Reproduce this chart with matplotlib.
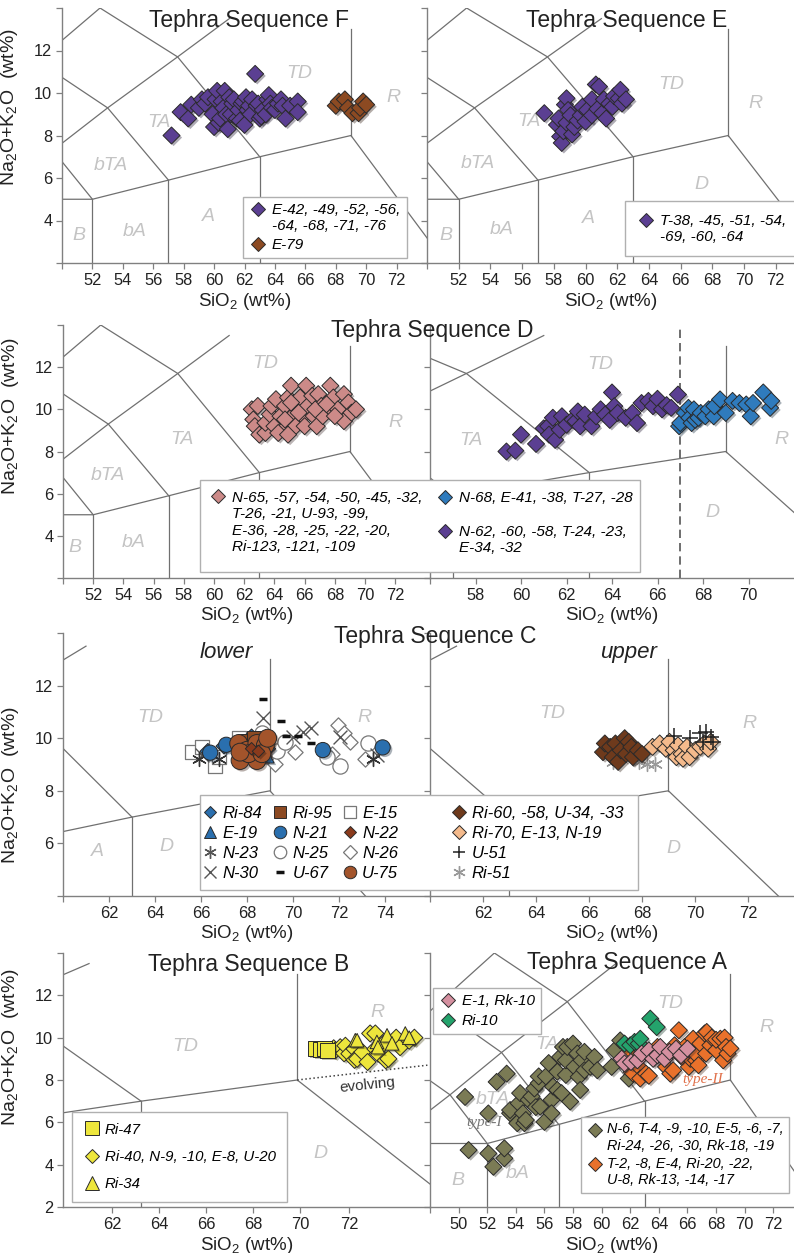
import matplotlib
matplotlib.use('Agg')
import matplotlib.pyplot as plt
from matplotlib.lines import Line2D
from matplotlib.patches import Rectangle
from matplotlib.legend_handler import HandlerLine2D
import matplotlib.patheffects as pe

plt.rcParams['font.family'] = ['Liberation Sans', 'DejaVu Sans']
plt.rcParams['mathtext.fontset'] = 'custom'
plt.rcParams['mathtext.rm'] = 'Liberation Sans'
plt.rcParams['mathtext.it'] = 'Liberation Sans:italic'

W, H = 794, 1253

# TAS field boundaries (SiO2, Na2O+K2O)
tas_lines = [
    [(45, 9.4), (48.4, 11.5), (52.5, 14)],
    [(52.5, 14), (57.6, 11.7), (63, 7)],
    [(45, 9.4), (49.4, 7.3), (52, 5)],
    [(48.4, 11.5), (53, 9.3), (57, 5.9)],
    [(45, 5), (49.4, 7.3), (53, 9.3), (57.6, 11.7), (61, 13.5)],
    [(45, 5), (52, 5), (57, 5.9), (63, 7), (69, 8), (77.3, 0)],
    [(52, 0), (52, 5)],
    [(57, 0), (57, 5.9)],
    [(63, 0), (63, 7)],
    [(69, 8), (69, 13)],
]

# ---- Tephra Sequence F
f_purple_x = [57.2, 57.8, 58.3, 58.5, 59.0, 59.2, 59.4, 59.6, 59.9, 60.0, 60.1, 60.2, 60.3, 60.4, 60.5,
              60.6, 60.7, 60.8, 60.9, 61.0, 61.1, 61.2, 61.3, 61.5, 61.6, 61.7, 61.8, 61.9, 62.0, 62.1,
              62.2, 62.3, 62.4, 62.5, 62.7, 62.8, 62.9, 63.0, 63.1, 63.2, 63.4, 63.5, 63.6, 63.7, 63.8,
              64.0, 64.2, 64.4, 64.5, 64.7, 65.0, 65.5, 65.5]
f_purple_y = [8.0, 9.1, 8.8, 9.45, 9.3, 9.7, 9.5, 9.8, 9.0, 8.4, 9.7, 10.1, 8.6, 8.8, 9.6,
              9.3, 10.1, 9.0, 8.3, 9.8, 9.0, 9.5, 9.7, 8.8, 9.2, 8.7, 9.5, 9.6, 8.5, 9.8,
              9.2, 9.4, 9.0, 9.7, 10.9, 9.4, 9.5, 8.8, 8.9, 9.2, 9.0, 9.7, 9.9, 9.5, 9.3,
              9.2, 9.5, 9.7, 9.4, 8.8, 9.4, 9.6, 9.1]
f_brown_x = [68.0, 68.2, 68.6, 68.8, 69.1, 69.5, 69.6, 69.8, 70.0]
f_brown_y = [9.4, 9.6, 9.7, 9.3, 9.05, 9.05, 9.3, 9.6, 9.45]

# ---- Tephra Sequence E
e_purple_x = [57.4, 58.2, 58.3, 58.4, 58.5, 58.6, 58.7, 58.8, 58.8, 58.9, 59.05, 59.15, 59.3, 59.5, 59.7,
              59.8, 60.0, 60.1, 60.4, 60.4, 60.65, 60.75, 60.85, 61.05, 61.16, 61.3, 61.5, 61.7, 61.8,
              62.1, 62.2, 62.3, 62.55]
e_purple_y = [9.05, 8.5, 8.8, 7.95, 7.65, 8.2, 9.45, 9.75, 8.6, 9.2, 8.95, 8.05, 8.4, 8.7, 8.95,
              9.35, 8.65, 9.2, 9.7, 8.95, 10.4, 9.25, 10.3, 9.05, 9.7, 8.8, 9.5, 9.35, 9.85,
              9.75, 10.15, 9.5, 9.7]

# ---- Tephra Sequence D
d_pink_x = [62.5, 62.6, 62.7, 63.0, 63.4, 62.9, 63.4, 63.7, 63.8, 64.0, 64.1, 64.4, 64.6, 64.7, 64.9,
            65.1, 65.2, 65.4, 65.5, 65.7, 65.9, 66.0, 66.1, 66.2, 66.5, 66.6, 66.8, 66.9, 67.1, 67.2,
            67.7, 67.8, 67.9, 68.2, 68.6, 68.6, 68.9, 69.1, 69.4, 64.25, 64.9, 64.7, 65.6, 66.7, 68.0,
            65.1, 67.45]
d_pink_y = [10.0, 9.52, 9.2, 8.8, 8.88, 10.16, 9.36, 9.76, 10.16, 9.2, 10.48, 9.68, 9.04, 10.16, 10.56,
            11.12, 9.68, 9.2, 10.16, 10.56, 9.68, 9.2, 11.12, 10.16, 10.64, 9.68, 9.2, 10.72, 10.16, 9.68,
            11.12, 10.0, 10.56, 10.0, 10.72, 9.44, 10.32, 9.84, 10.0, 8.88, 8.8, 9.52, 9.84, 10.0, 9.68,
            10.32, 10.24]
d_purple_x = [59.36, 59.75, 60.0, 60.66, 61.0, 61.2, 61.23, 61.4, 61.5, 61.7, 61.8, 62.0, 62.27, 62.4,
              62.5, 62.6, 62.8, 63.1, 63.3, 63.5, 63.7, 63.9, 64.0, 64.1, 64.25, 64.6, 64.9, 65.1, 65.3,
              65.6, 65.8, 66.0, 66.2, 66.4, 66.6, 66.9]
d_purple_y = [8.0, 8.04, 8.8, 8.36, 9.1, 9.2, 8.8, 9.6, 8.55, 9.03, 9.67, 9.27, 9.51, 9.43,
              9.9, 9.2, 9.75, 9.2, 9.67, 10.0, 9.75, 9.5, 10.8, 10.15, 9.83, 9.6, 9.83, 9.35, 10.3,
              10.4, 10.15, 10.5, 10.0, 10.2, 10.07, 10.7]
d_blue_x = [66.95, 67.0, 67.2, 67.36, 67.4, 67.5, 67.6, 67.65, 67.8, 67.9, 68.1, 68.25, 68.47, 68.5,
            68.75, 69.0, 69.3, 69.6, 69.9, 70.1, 70.2, 70.65, 70.95, 71.0]
d_blue_y = [9.2, 9.35, 9.83, 10.07, 9.6, 9.35, 10.0, 9.5, 9.6, 9.83, 9.67, 10.0, 9.67, 10.15,
            10.47, 9.83, 10.4, 10.3, 10.23, 9.67, 10.3, 10.8, 10.07, 10.4]
d_split = 67

# ---- Tephra Sequence C, lower
c_ri84_x = [66.3, 67.0, 68.2, 68.9]
c_ri84_y = [9.5, 9.7, 10.05, 9.6]
c_e19_x = [68.9, 68.6]
c_e19_y = [9.3, 9.9]
c_n21_x = [66.4, 67.1, 71.3, 73.9]
c_n21_y = [9.45, 9.75, 9.55, 9.65]
c_ri95_x = [67.9, 68.3]
c_ri95_y = [9.9, 10.0]
c_n22_x = [68.2, 68.5]
c_n22_y = [9.6, 9.5]
c_e15_x = [65.6, 66.05, 66.6, 66.8, 67.64]
c_e15_y = [9.47, 9.67, 8.96, 9.3, 9.99]
c_n23_x = [65.9, 66.8, 73.5]
c_n23_y = [9.22, 9.22, 9.22]
c_n25_x = [68.65, 69.3, 69.66, 71.5, 72.04, 73.27]
c_n25_y = [10.18, 9.5, 9.86, 9.3, 8.96, 9.8]
c_n26_x = [69.2, 70.1, 71.7, 71.97, 72.2, 72.5, 73.15]
c_n26_y = [9.03, 9.47, 9.4, 10.5, 10.18, 9.86, 9.22]
c_n30_x = [66.05, 68.7, 70.0, 70.45, 70.8, 72.04, 73.65]
c_n30_y = [9.35, 10.76, 10.05, 10.24, 10.4, 10.05, 9.35]
c_u67_x = [68.7, 69.47, 69.7, 70.24, 70.8]
c_u67_y = [11.49, 10.67, 10.1, 10.08, 9.82]
c_u75_x = [67.64, 68.0, 68.43, 68.8, 67.7, 68.43, 68.07, 68.65, 67.7, 68.9]
c_u75_y = [9.8, 9.54, 9.8, 9.73, 9.15, 9.15, 9.41, 9.41, 9.47, 10.0]

# ---- Tephra Sequence C, upper
c_ri60_x = [66.53, 66.6, 66.8, 66.9, 67.0, 67.1, 67.2, 67.35, 67.4, 67.5, 67.6, 67.66, 67.85, 68.0]
c_ri60_y = [9.47, 9.8, 9.67, 9.28, 9.8, 9.1, 9.54, 10.0, 9.4, 9.86, 9.67, 9.28, 9.54, 9.4]
c_ri70_x = [68.4, 68.67, 68.9, 69.04, 69.2, 69.3, 69.36, 69.5, 69.55, 69.7, 69.8, 70.0, 70.2, 70.36,
            70.5, 70.6]
c_ri70_y = [9.67, 9.8, 9.6, 9.86, 9.54, 9.28, 9.73, 9.4, 9.22, 9.67, 9.28, 9.54, 9.67, 9.8,
            9.6, 9.86]
c_u51_x = [69.2, 69.8, 70.2, 70.3, 70.4, 70.6, 70.7]
c_u51_y = [10.1, 10.0, 10.18, 9.86, 10.24, 10.05, 9.86]
c_ri51_x = [66.9, 67.9, 68.2, 68.5]
c_ri51_y = [9.1, 9.1, 9.03, 9.03]

# ---- Tephra Sequence B
b_ri47_x = [69.7, 69.9, 70.05, 70.15]
b_ri47_y = [9.5, 9.45, 9.5, 9.4]
b_ri40_x = [70.4, 70.46, 70.65, 70.8, 70.85, 71.0, 71.2, 71.2, 71.3, 71.5, 71.7, 71.8, 72.0, 72.0,
            72.1, 72.3, 72.4, 72.5, 72.8, 72.95, 73.3, 73.5]
b_ri40_y = [9.5, 9.4, 9.55, 9.26, 9.62, 9.24, 9.47, 8.95, 9.0, 9.32, 8.85, 10.2, 10.2, 9.47,
            9.24, 9.7, 8.93, 9.0, 10.0, 9.55, 9.86, 10.0]
b_ri34_x = [71.23, 71.3, 72.06, 72.1, 72.45, 72.64, 73.15, 73.3]
b_ri34_y = [9.88, 9.88, 9.8, 9.55, 10.11, 9.73, 10.2, 10.0]
evolve_x = [69, 74]
evolve_y = [8, 8.7]
b_tick_pos = [61.9, 63.7, 65.5, 67.3, 69.1, 71.0]
b_tick_lab = ['62', '64', '66', '68', '70', '72']

# ---- Tephra Sequence A
a_olive_x = [50.45, 50.7, 52.08, 52.08, 52.43, 52.66, 53.2, 53.2, 53.36, 53.6, 53.6, 54.1, 54.2, 54.3,
             54.5, 54.6, 54.7, 54.9, 55.1, 55.3, 55.4, 55.6, 55.6, 55.7, 56.0, 56.1, 56.3, 56.5, 56.5,
             56.6, 56.9, 56.9, 57.1, 57.2, 57.3, 57.5, 57.5, 57.6, 57.8, 58.0, 58.1, 58.3, 58.4, 58.5,
             58.6, 58.8, 58.8, 59.2, 59.5, 59.7, 60.7, 60.9, 61.3, 61.9]
a_olive_y = [7.2, 4.69, 6.42, 4.53, 3.9, 7.91, 4.3, 4.77, 8.3, 6.43, 6.58, 5.96, 6.9, 7.38,
             6.43, 5.96, 6.11, 7.06, 7.22, 7.6, 6.72, 7.85, 8.17, 6.74, 6.02, 8.17, 8.8, 7.06, 6.43,
             7.69, 8.39, 7.53, 9.09, 7.38, 9.56, 8.24, 8.93, 9.56, 6.98, 9.72, 8.62, 9.25, 8.15, 7.53,
             8.93, 9.33, 8.46, 8.62, 9.09, 8.46, 8.62, 9.4, 9.87, 8.07]
a_orange_x = [61.9, 62.1, 62.2, 62.6, 62.7, 63.1, 63.3, 63.3, 63.6, 63.9, 64.5, 64.6, 64.8, 65.0,
              65.1, 65.4, 65.6, 65.8, 66.1, 66.2, 66.3, 66.4, 66.6, 66.65, 66.77, 66.9, 67.2, 67.3,
              67.35, 67.6, 67.7, 68.0, 68.0, 68.3, 68.5, 68.6, 68.7, 68.8, 69.0]
a_orange_y = [9.25, 8.38, 8.3, 8.62, 8.07, 8.3, 9.33, 8.2, 9.09, 9.56, 8.62, 9.25, 8.3, 8.46,
              9.64, 10.35, 9.09, 9.56, 8.62, 9.0, 9.33, 9.95, 8.93, 9.17, 8.7, 9.72, 10.2, 9.25,
              10.27, 9.64, 10.0, 9.4, 9.9, 9.95, 8.93, 10.0, 9.56, 9.25, 9.49]
a_pink_x = [61.4, 61.6, 62.05, 62.5, 62.8, 63.3, 63.6, 63.9, 64.1, 64.4, 64.75, 65.2, 65.55, 66.0]
a_pink_y = [9.01, 8.78, 8.85, 8.93, 9.25, 9.4, 9.0, 9.17, 9.56, 9.0, 9.33, 9.48, 9.17, 9.48]
a_green_x = [61.6, 62.0, 62.3, 62.6, 62.7, 63.4, 63.85]
a_green_y = [9.72, 9.64, 9.8, 9.72, 9.95, 10.9, 10.5]

PURPLE = '#5b3f92'
BROWN = '#8c4a22'
PINK = '#cc8a88'
BLUE = '#2f7bbd'
C_BLUE = '#2a6fae'
DARKBROWN = '#6e3a1c'
TAN = '#f4ba8c'
YELLOW = '#ede63c'
OLIVE = '#7b7b55'
ORANGE = '#e9712b'
APINK = '#d590a0'
GREEN = '#24a36c'
EDGE = '#2a2a2a'
FIELD = '#c4c4c4'
AXC = '#808080'

shadow = [pe.SimplePatchShadow(offset=(1.5, -1.5), alpha=0.35), pe.Normal()]


class TopHandler(HandlerLine2D):
    # puts the marker level with the first line of a multi-line label
    def __init__(self, extra_lines, **kw):
        super().__init__(**kw)
        self.extra_lines = extra_lines

    def create_artists(self, legend, orig_handle, xdescent, ydescent, width, height, fontsize, trans):
        shift = self.extra_lines * 1.17 * fontsize
        return super().create_artists(legend, orig_handle, xdescent, ydescent - shift,
                                      width, height, fontsize, trans)


def fx(px):
    return px / W


def fy(py):
    return 1 - py / H


def rect(x0, y0, x1, y1):
    return [x0 / W, 1 - y1 / H, (x1 - x0) / W, (y1 - y0) / H]


def setup(ax, xlim, ylim, xticks, xlabels, yticks, ylabels):
    ax.set_xlim(*xlim)
    ax.set_ylim(*ylim)
    ax.patch.set_alpha(0)
    for s in ['top', 'right']:
        ax.spines[s].set_visible(False)
    for s in ['left', 'bottom']:
        ax.spines[s].set_color(AXC)
        ax.spines[s].set_linewidth(1.0)
    ax.set_xticks(xticks)
    ax.set_xticklabels(xlabels)
    ax.set_yticks(yticks)
    ax.set_yticklabels(ylabels)
    ax.tick_params(direction='out', length=4, width=0.9, color=AXC, labelsize=11.8,
                   labelcolor='#222', pad=3)
    ax.set_xlabel('SiO$_\\mathregular{2}$ (wt%)', fontsize=13.5, color='#222', labelpad=2)
    for seg in tas_lines:
        xs, ys = zip(*seg)
        ax.plot(xs, ys, color='#707070', lw=0.9, zorder=1)


def ylab(ax, yfrac):
    ax.set_ylabel('Na$_\\mathregular{2}$O+K$_\\mathregular{2}$O  (wt%)', fontsize=14, color='#222')
    ax.yaxis.set_label_coords(-0.115, yfrac)


def field(ax, items):
    for s, x, y in items:
        ax.text(x, y, s, color=FIELD, fontsize=14, style='italic', ha='center', va='center',
                zorder=0.5, clip_on=True)


def pts(ax, x, y, marker, color, s=75, edge=EDGE, lw=0.7, fx_=True, z=3):
    ax.scatter(x, y, marker=marker, s=s, c=color, edgecolors=edge, linewidths=lw, zorder=z,
               path_effects=shadow if fx_ else None)


def h(marker, color, ms=7.5, edge=EDGE, mew=0.7):
    return Line2D([], [], marker=marker, ls='none', markerfacecolor=color, markeredgecolor=edge,
                  markersize=ms, markeredgewidth=mew)


def leg_kw(size=11, frame=True):
    return dict(frameon=frame, fancybox=False, edgecolor='#b0b0b0', framealpha=1, borderaxespad=0,
                handletextpad=0.3, handlelength=1.2, prop={'style': 'italic', 'size': size})


fig = plt.figure(figsize=(W / 100, H / 100), dpi=100)

ev = [2, 4, 6, 8, 10, 12, 14]
ev_lab = ['', '4', '6', '8', '10', '12', '']
blank = [''] * 7

# ---------- Row 1
ax = fig.add_axes(rect(62, 8, 427, 263))
setup(ax, (50, 74), (2, 14), list(range(50, 73, 2)), [''] + [str(v) for v in range(52, 73, 2)], ev, ev_lab)
ylab(ax, 0.61)
field(ax, [('TD', 65.6, 10.9), ('R', 71.8, 9.8), ('TA', 56.4, 8.6), ('bTA', 53.2, 6.6),
           ('A', 59.6, 4.2), ('bA', 54.8, 3.5), ('B', 51.1, 3.3)])
pts(ax, f_purple_x, f_purple_y, 'D', PURPLE)
pts(ax, f_brown_x, f_brown_y, 'D', BROWN)
hp = h('D', PURPLE)
ax.legend([hp, h('D', BROWN)], ['E-42, -49, -52, -56,\n-64, -68, -71, -76', 'E-79'],
          loc='lower left', bbox_to_anchor=(fx(243), fy(258)), bbox_transform=fig.transFigure,
          labelspacing=0.3, handler_map={hp: TopHandler(1)}, **leg_kw())
fig.text(fx(249), fy(20), 'Tephra Sequence F', fontsize=16.5, ha='center', va='center', color='#222')

ax = fig.add_axes(rect(427, 8, 794, 263))
setup(ax, (50, 73.15), (2, 14), list(range(50, 73, 2)), [''] + [str(v) for v in range(52, 73, 2)], ev, blank)
field(ax, [('TD', 65.4, 10.4), ('R', 70.7, 9.5), ('TA', 56.4, 8.65), ('bTA', 53.2, 6.7),
           ('D', 67.3, 5.7), ('A', 60.2, 4.1), ('bA', 54.7, 3.6), ('B', 51.2, 3.3)])
pts(ax, e_purple_x, e_purple_y, 'D', PURPLE)
hp = h('D', PURPLE)
ax.legend([hp], ['T-38, -45, -51, -54,\n-69, -60, -64'],
          loc='lower left', bbox_to_anchor=(fx(625), fy(256)), bbox_transform=fig.transFigure,
          borderpad=0.8, handler_map={hp: TopHandler(1)}, **leg_kw())
fig.text(fx(627), fy(20), 'Tephra Sequence E', fontsize=16.5, ha='center', va='center', color='#222')

# ---------- Row 2
ax = fig.add_axes(rect(63, 325, 430, 578))
setup(ax, (50, 74.3), (2, 14), list(range(50, 73, 2)), [''] + [str(v) for v in range(52, 73, 2)], ev, ev_lab)
ylab(ax, 0.64)
field(ax, [('TD', 63.4, 12.16), ('R', 72.0, 9.36), ('TA', 57.85, 8.56), ('bTA', 53.0, 6.88),
           ('bA', 54.65, 3.7), ('B', 50.8, 3.44)])
pts(ax, d_pink_x, d_pink_y, 'D', PINK)

ax = fig.add_axes(rect(430, 325, 794, 578))
setup(ax, (56, 72), (2, 14), list(range(56, 72, 2)), [''] + [str(v) for v in range(58, 72, 2)], ev, blank)
field(ax, [('TD', 63.5, 12.14), ('TA', 57.8, 8.5), ('R', 71.45, 8.55), ('D', 68.4, 5.1)])
ax.axvline(d_split, ls=(0, (5, 3)), color='#555', lw=1.2, zorder=2)
pts(ax, d_purple_x, d_purple_y, 'D', PURPLE)
pts(ax, d_blue_x, d_blue_y, 'D', BLUE)
fig.text(fx(432), fy(330), 'Tephra Sequence D', fontsize=16.5, ha='center', va='center', color='#222')

fig.add_artist(Rectangle((fx(200), fy(572)), (640 - 200) / W, (572 - 480) / H, transform=fig.transFigure,
                         facecolor='white', edgecolor='#b0b0b0', lw=1, zorder=4))
hp = h('D', PINK)
fig.legend([hp], ['N-65, -57, -54, -50, -45, -32,\nT-26, -21, U-93, -99,\nE-36, -28, -25, -22, -20,\nRi-123, -121, -109'],
           loc='upper left', bbox_to_anchor=(fx(203), fy(485)), handler_map={hp: TopHandler(3)},
           **leg_kw(frame=False))
hq = h('D', PURPLE)
fig.legend([h('D', BLUE), hq], ['N-68, E-41, -38, T-27, -28', 'N-62, -60, -58, T-24, -23,\nE-34, -32'],
           loc='upper left', bbox_to_anchor=(fx(430), fy(485)), labelspacing=1.3,
           handler_map={hq: TopHandler(1)}, **leg_kw(frame=False))

# ---------- Row 3
ev3 = [4, 6, 8, 10, 12, 14]
ax = fig.add_axes(rect(63, 633, 430, 896))
setup(ax, (60, 75.96), (4, 14), list(range(60, 75, 2)), [''] + [str(v) for v in range(62, 75, 2)],
      ev3, ['', '6', '8', '10', '12', ''])
ylab(ax, 0.42)
field(ax, [('TD', 63.8, 10.8), ('R', 73.1, 10.8), ('A', 61.5, 5.7), ('D', 64.5, 5.9)])
ax.text(67.1, 13.25, 'lower', fontsize=16, style='italic', ha='center', va='center', color='#222')
pts(ax, c_n26_x, c_n26_y, 'D', 'white', s=60, edge='#777', lw=0.9, fx_=False)
pts(ax, c_n25_x, c_n25_y, 'o', 'white', s=120, edge='#777', lw=0.9, fx_=False)
pts(ax, c_e15_x, c_e15_y, 's', 'white', s=100, edge='#777', lw=0.9, fx_=False)
pts(ax, c_n30_x, c_n30_y, 'x', '#555', s=100, edge=None, lw=1.0, fx_=False)
pts(ax, c_n23_x, c_n23_y, (6, 2, 0), '#333', s=100, edge=None, lw=1.0, fx_=False)
pts(ax, c_u67_x, c_u67_y, '_', '#111', s=40, edge=None, lw=2.5, fx_=False)
pts(ax, c_ri84_x, c_ri84_y, 'D', C_BLUE, s=65)
pts(ax, c_n21_x, c_n21_y, 'o', C_BLUE, s=120)
pts(ax, c_e19_x, c_e19_y, '^', C_BLUE, s=85)
pts(ax, c_ri95_x, c_ri95_y, 's', BROWN, s=100)
pts(ax, c_u75_x, c_u75_y, 'o', '#a3542b', s=165)
pts(ax, c_n22_x, c_n22_y, 'D', '#8a3a1c', s=40)

ax = fig.add_axes(rect(430, 633, 794, 896))
setup(ax, (60, 73.74), (4, 14), list(range(60, 73, 2)), [''] + [str(v) for v in range(62, 73, 2)],
      ev3, [''] * 6)
field(ax, [('TD', 64.6, 10.95), ('R', 72.06, 10.56), ('D', 69.2, 5.8)])
ax.text(67.5, 13.25, 'upper', fontsize=16, style='italic', ha='center', va='center', color='#222')
pts(ax, c_ri51_x, c_ri51_y, (6, 2, 0), '#999', s=100, edge=None, lw=1.0, fx_=False)
pts(ax, c_ri60_x, c_ri60_y, 'D', DARKBROWN)
pts(ax, c_ri70_x, c_ri70_y, 'D', TAN)
pts(ax, c_u51_x, c_u51_y, '+', '#222', s=120, edge=None, lw=1.1, fx_=False)
fig.text(fx(435), fy(637), 'Tephra Sequence C', fontsize=16.5, ha='center', va='center', color='#222')

fig.add_artist(Rectangle((fx(200), fy(890)), (638 - 200) / W, (890 - 795) / H, transform=fig.transFigure,
                         facecolor='white', edgecolor='#b0b0b0', lw=1, zorder=4))
kwc = leg_kw(12, frame=False)
kwc['handlelength'] = 0.9
lower_h = [h('D', C_BLUE, 6), h('^', C_BLUE, 8), h((6, 2, 0), '#555', 9, '#555', 1.0), h('x', '#555', 8, '#555', 1.0),
           h('s', BROWN, 8), h('o', C_BLUE, 9), h('o', 'white', 9, '#777', 0.9), h('_', '#111', 6, '#111', 2.5),
           h('s', 'white', 8, '#777', 0.9), h('D', '#8a3a1c', 6), h('D', 'white', 7, '#777', 0.9), h('o', '#a3542b', 9)]
lower_l = ['Ri-84', 'E-19', 'N-23', 'N-30', 'Ri-95', 'N-21', 'N-25', 'U-67', 'E-15', 'N-22', 'N-26', 'U-75']
fig.legend(lower_h, lower_l, ncol=3, loc='upper left', bbox_to_anchor=(fx(196), fy(799)),
           columnspacing=0.6, labelspacing=0.3, **kwc)
upper_h = [h('D', DARKBROWN), h('D', TAN), h('+', '#222', 9, '#222', 1.1), h((6, 2, 0), '#999', 9, '#999', 1.0)]
upper_l = ['Ri-60, -58, U-34, -33', 'Ri-70, E-13, N-19', 'U-51', 'Ri-51']
fig.legend(upper_h, upper_l, loc='upper left', bbox_to_anchor=(fx(445), fy(799)),
           labelspacing=0.3, **kwc)

# ---------- Row 4
ax = fig.add_axes(rect(63, 953, 430, 1207))
setup(ax, (60, 74.1), (2, 14), b_tick_pos, b_tick_lab, ev, ['2', '4', '6', '8', '10', '12', ''])
ylab(ax, 0.63)
field(ax, [('R', 72.07, 11.2), ('TD', 64.7, 9.6), ('D', 69.9, 4.55)])
ax.plot(evolve_x, evolve_y, ls=':', color='#444', lw=1.1, zorder=2)
ax.text(71.7, 7.75, 'evolving', fontsize=11, rotation=6, ha='center', va='center', color='#333')
pts(ax, b_ri40_x, b_ri40_y, 'D', YELLOW)
pts(ax, b_ri34_x, b_ri34_y, '^', YELLOW, s=95)
pts(ax, b_ri47_x, b_ri47_y, 's', YELLOW, s=120)
ax.legend([h('s', YELLOW, 10), h('D', YELLOW, 7.5), h('^', YELLOW, 10)],
          ['Ri-47', 'Ri-40, N-9, -10, E-8, U-20', 'Ri-34'],
          loc='lower left', bbox_to_anchor=(fx(72), fy(1202)), bbox_transform=fig.transFigure,
          labelspacing=0.9, borderpad=0.7, **leg_kw(10.8))
fig.text(fx(249), fy(964), 'Tephra Sequence B', fontsize=16.5, ha='center', va='center', color='#222')

ax = fig.add_axes(rect(430, 953, 794, 1207))
setup(ax, (48, 73.45), (2, 14), list(range(48, 73, 2)), [''] + [str(v) for v in range(50, 73, 2)], ev, blank)
field(ax, [('B', 49.96, 3.27), ('bA', 54.1, 3.58), ('bTA', 52.4, 7.1), ('TA', 56.2, 9.7),
           ('TD', 64.8, 11.6), ('R', 71.5, 10.5)])
pts(ax, a_olive_x, a_olive_y, 'D', OLIVE)
pts(ax, a_orange_x, a_orange_y, 'D', ORANGE)
pts(ax, a_green_x, a_green_y, 'D', GREEN)
pts(ax, a_pink_x, a_pink_y, 'D', APINK)
ax.text(51.8, 6.0, 'type-I', fontsize=11, style='italic', family='Liberation Serif', color='#777',
        ha='center', va='center')
ax.text(67.1, 8.0, 'type-II', fontsize=11, style='italic', family='Liberation Serif', color='#e0704a',
        ha='center', va='center')
leg1 = ax.legend([h('D', APINK), h('D', GREEN)], ['E-1, Rk-10', 'Ri-10'],
                 loc='upper left', bbox_to_anchor=(fx(433), fy(988)), bbox_transform=fig.transFigure,
                 labelspacing=0.4, **leg_kw())
ax.add_artist(leg1)
ho, hr = h('D', OLIVE), h('D', ORANGE)
kwa = leg_kw(10.4)
kwa['handletextpad'] = 0.2
ax.legend([ho, hr],
          ['N-6, T-4, -9, -10, E-5, -6, -7,\nRi-24, -26, -30, Rk-18, -19', 'T-2, -8, E-4, Ri-20, -22,\nU-8, Rk-13, -14, -17'],
          loc='lower left', bbox_to_anchor=(fx(581), fy(1193)), bbox_transform=fig.transFigure,
          labelspacing=0.3, handler_map={ho: TopHandler(1), hr: TopHandler(1)}, **kwa)
fig.text(fx(627), fy(962), 'Tephra Sequence A', fontsize=16.5, ha='center', va='center', color='#222')

fig.savefig('out.png', dpi=100)
